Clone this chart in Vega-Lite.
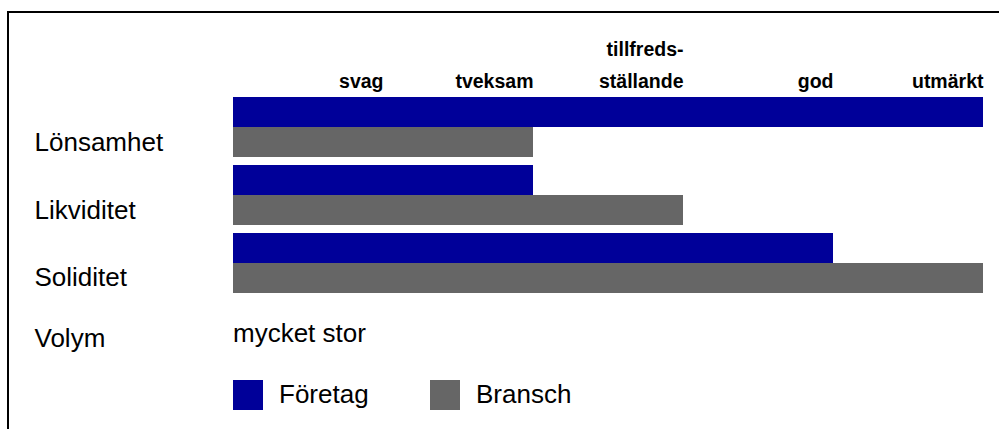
{
  "$schema": "https://vega.github.io/schema/vega-lite/v6.json",
  "width": 1005,
  "height": 420,
  "autosize": {"type": "none"},
  "padding": {"left": 8, "top": 12, "right": -14, "bottom": -3},
  "background": "white",
  "config": {
    "view": {"stroke": "black", "strokeWidth": 2},
    "font": "Liberation Sans"
  },
  "data": {
    "values": [
      {"Faktor": "Lönsamhet", "Serie": "Företag", "Betyg": 5},
      {"Faktor": "Lönsamhet", "Serie": "Bransch", "Betyg": 2},
      {"Faktor": "Likviditet", "Serie": "Företag", "Betyg": 2},
      {"Faktor": "Likviditet", "Serie": "Bransch", "Betyg": 3},
      {"Faktor": "Soliditet", "Serie": "Företag", "Betyg": 4},
      {"Faktor": "Soliditet", "Serie": "Bransch", "Betyg": 5},
      {"Faktor": "Volym", "Text": "mycket stor"}
    ]
  },
  "layer": [
    {
      "transform": [{"filter": "isValid(datum.Betyg)"}],
      "mark": {"type": "bar"},
      "encoding": {
        "y": {
          "field": "Faktor",
          "type": "nominal",
          "scale": {
            "domain": ["Lönsamhet", "Likviditet", "Soliditet", "Volym"],
            "range": [85, 349],
            "paddingInner": 0.1176,
            "paddingOuter": 0,
            "round": false
          },
          "axis": {
            "orient": "left",
            "offset": -26,
            "title": null,
            "domain": false,
            "ticks": false,
            "tickSize": 0,
            "labelPadding": 0,
            "labelAlign": "left",
            "labelFontSize": 26,
            "labelColor": "black",
            "labelLimit": 300,
            "labelOffset": {"condition": {"test": "datum.value === 'Volym'", "value": 8.5}, "value": 15.5}
          }
        },
        "yOffset": {
          "field": "Serie",
          "type": "nominal",
          "scale": {"domain": ["Företag", "Bransch"], "paddingInner": 0, "paddingOuter": 0}
        },
        "x": {
          "field": "Betyg",
          "type": "quantitative",
          "scale": {"domain": [-1.5, 5.2], "nice": false, "zero": false},
          "axis": {
            "orient": "top",
            "offset": -79,
            "values": [1, 2, 3, 4, 5],
            "labelExpr": "datum.value == 1 ? 'svag' : datum.value == 2 ? 'tveksam' : datum.value == 3 ? ['tillfreds-', 'ställande'] : datum.value == 4 ? 'god' : 'utmärkt'",
            "labelAlign": "right",
            "labelBaseline": "bottom",
            "labelFontSize": 19.5,
            "labelFontWeight": "bold",
            "labelLineHeight": 32,
            "labelPadding": {"condition": {"test": "datum.value == 3", "value": 32}, "value": 0},
            "tickSize": 0,
            "ticks": false,
            "domain": false,
            "grid": false,
            "title": null,
            "labelOverlap": false,
            "labelFlush": false,
            "labelColor": "black"
          }
        },
        "x2": {"datum": 0},
        "color": {
          "field": "Serie",
          "type": "nominal",
          "scale": {"domain": ["Företag", "Bransch"], "range": ["#000099", "#666666"]},
          "legend": {
            "orient": "none",
            "legendX": 225,
            "legendY": 368,
            "direction": "horizontal",
            "title": null,
            "symbolType": "square",
            "symbolSize": 900,
            "symbolStrokeWidth": 0,
            "symbolOpacity": 1,
            "labelFontSize": 26,
            "labelColor": "black",
            "labelOffset": 16,
            "columnPadding": 61,
            "padding": 0,
            "labelLimit": 300
          }
        }
      }
    },
    {
      "transform": [{"filter": "isValid(datum.Text)"}],
      "mark": {"type": "text", "align": "left", "baseline": "alphabetic", "dy": 11, "fontSize": 26, "color": "black"},
      "encoding": {
        "y": {"field": "Faktor", "type": "nominal"},
        "x": {"datum": 0},
        "text": {"field": "Text"}
      }
    }
  ]
}
